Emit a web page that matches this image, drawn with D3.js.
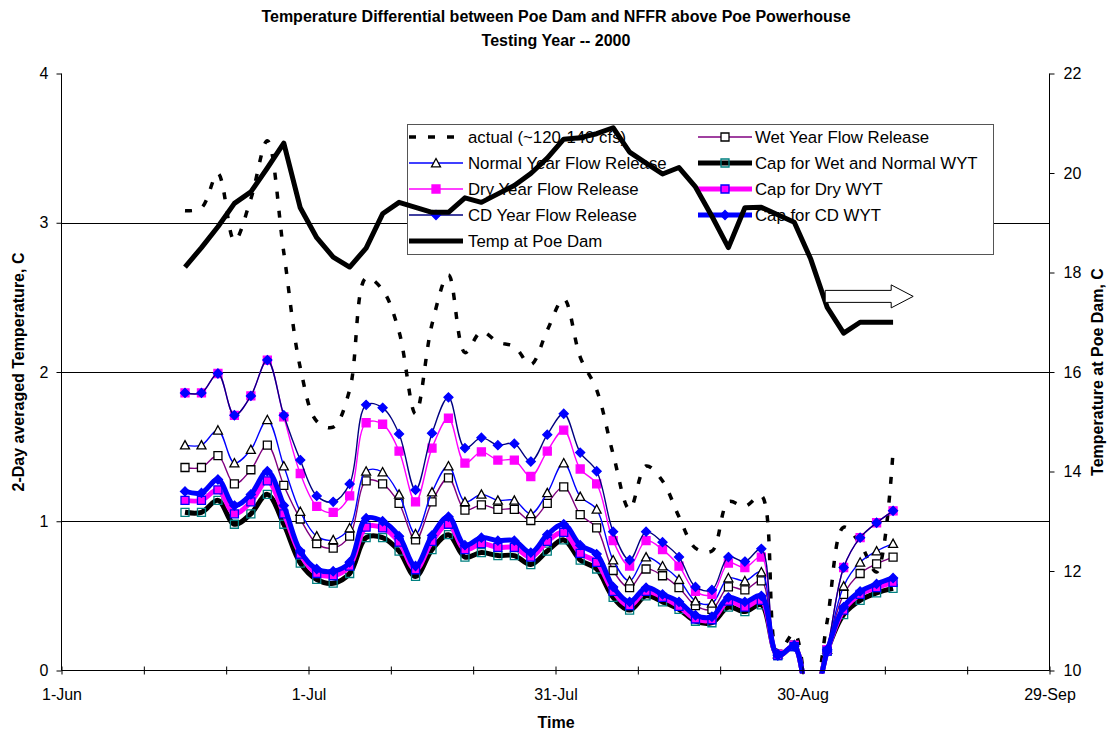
<!DOCTYPE html>
<html><head><meta charset="utf-8">
<script src="https://cdn.jsdelivr.net/npm/d3@7"></script>
<style>body{margin:0;background:#fff}text{font-family:"Liberation Sans",Arial,sans-serif}</style>
</head><body>
<svg id="chart" width="1110" height="733"></svg>
<script>
// ---------- DATA ----------
const dates = ["2000-06-16","2000-06-18","2000-06-20","2000-06-22","2000-06-24","2000-06-26","2000-06-28","2000-06-30",
 "2000-07-02","2000-07-04","2000-07-06","2000-07-08","2000-07-10","2000-07-12","2000-07-14","2000-07-16","2000-07-18",
 "2000-07-20","2000-07-22","2000-07-24","2000-07-26","2000-07-28","2000-07-30",
 "2000-08-01","2000-08-03","2000-08-05","2000-08-07","2000-08-09","2000-08-11","2000-08-13","2000-08-15","2000-08-17",
 "2000-08-19","2000-08-21","2000-08-23","2000-08-25","2000-08-27","2000-08-29","2000-08-31",
 "2000-09-02","2000-09-04","2000-09-06","2000-09-08","2000-09-10"];
const actual = [3.08,3.10,3.33,2.88,3.16,3.55,2.80,2.03,1.67,1.63,1.88,2.63,2.55,2.27,1.72,2.32,2.65,2.13,2.27,2.20,2.17,2.05,2.28,2.49,2.10,1.88,1.45,1.08,1.37,1.27,1.03,0.82,0.80,1.13,1.10,1.17,0.12,0.25,-0.30,0.33,0.96,0.85,0.66,1.47];
const wet = [1.36,1.36,1.44,1.25,1.345,1.51,1.24,1.015,0.85,0.82,0.90,1.27,1.25,1.12,0.875,1.13,1.29,1.075,1.11,1.08,1.08,1.005,1.12,1.23,1.045,0.955,0.67,0.555,0.68,0.635,0.555,0.435,0.41,0.56,0.54,0.60,0.11,0.17,-0.30,0.14,0.51,0.65,0.715,0.76];
const normal = [1.51,1.51,1.61,1.39,1.48,1.68,1.37,1.065,0.90,0.875,0.955,1.335,1.33,1.18,0.915,1.195,1.37,1.13,1.18,1.14,1.14,1.05,1.19,1.39,1.165,1.08,0.74,0.60,0.76,0.70,0.61,0.465,0.45,0.62,0.60,0.66,0.11,0.17,-0.30,0.14,0.565,0.725,0.80,0.85];
const dry = [1.86,1.86,1.99,1.71,1.84,2.08,1.70,1.32,1.10,1.06,1.17,1.66,1.65,1.47,1.13,1.49,1.69,1.39,1.465,1.41,1.41,1.30,1.47,1.61,1.35,1.25,0.87,0.70,0.87,0.81,0.70,0.53,0.51,0.72,0.69,0.76,0.11,0.17,-0.30,0.14,0.69,0.89,0.99,1.07];
const cd = [1.86,1.86,1.99,1.71,1.84,2.08,1.71,1.41,1.17,1.13,1.25,1.78,1.76,1.585,1.21,1.59,1.83,1.49,1.56,1.51,1.52,1.40,1.58,1.72,1.46,1.335,0.93,0.74,0.93,0.86,0.76,0.56,0.54,0.76,0.73,0.815,0.11,0.17,-0.30,0.14,0.69,0.89,0.99,1.07];
const capWN = [1.06,1.06,1.14,0.98,1.05,1.18,0.98,0.72,0.61,0.585,0.65,0.89,0.89,0.80,0.63,0.81,0.91,0.76,0.79,0.77,0.77,0.71,0.80,0.875,0.74,0.68,0.49,0.405,0.50,0.46,0.41,0.33,0.32,0.425,0.395,0.44,0.10,0.16,-0.30,0.13,0.375,0.47,0.52,0.55];
const capDry = [1.14,1.14,1.21,1.05,1.13,1.27,1.05,0.78,0.65,0.635,0.70,0.96,0.955,0.86,0.675,0.865,0.98,0.81,0.85,0.825,0.825,0.76,0.865,0.925,0.785,0.725,0.53,0.435,0.53,0.49,0.43,0.345,0.34,0.465,0.425,0.47,0.10,0.16,-0.30,0.13,0.405,0.51,0.555,0.59];
const capCD = [1.20,1.19,1.28,1.105,1.18,1.335,1.105,0.80,0.68,0.665,0.725,1.02,1.00,0.90,0.70,0.905,1.03,0.84,0.89,0.87,0.87,0.79,0.91,0.98,0.84,0.78,0.56,0.46,0.555,0.51,0.46,0.37,0.36,0.49,0.46,0.50,0.10,0.16,-0.30,0.13,0.425,0.53,0.58,0.62];
const tempPoe = [18.11,18.5,18.92,19.39,19.62,20.1,20.60,19.30,18.70,18.31,18.11,18.49,19.18,19.41,19.31,19.21,19.21,19.50,19.41,19.58,19.75,19.99,20.30,20.68,20.71,20.79,20.91,20.42,20.20,19.98,20.11,19.72,19.13,18.50,19.30,19.31,19.16,19.01,18.27,17.30,16.78,17.00,17.00,17.00];
const xTickDates = ["2000-06-01","2000-06-11","2000-06-21","2000-07-01","2000-07-11","2000-07-21","2000-07-31","2000-08-10","2000-08-20","2000-08-30","2000-09-09","2000-09-19","2000-09-29"];
const xLabelDates = ["2000-06-01","2000-07-01","2000-07-31","2000-08-30","2000-09-29"];
const leftTicks = [0,1,2,3,4];
const rightTicks = [10,12,14,16,18,20,22];
const gridTicks = [1,2,3];

// ---------- SETUP ----------
const parse = d3.utcParse("%Y-%m-%d");
const fmt = d3.utcFormat("%-d-%b");
const X = dates.map(parse);
const svg = d3.select("#chart");
const L = 61.5, R = 1049.5, T = 73.5, B = 670.5;
const x = d3.scaleUtc().domain([parse("2000-06-01"), parse("2000-09-29")]).range([L, R]);
const yL = d3.scaleLinear().domain([0,4]).range([B, T]);
const yR = d3.scaleLinear().domain([10,22]).range([B, T]);

svg.append("defs").append("clipPath").attr("id","clip")
  .append("rect").attr("x", L).attr("y", T - 3).attr("width", R - L).attr("height", B - T + 6);

// gridlines
svg.append("g").selectAll("line").data(gridTicks).join("line")
  .attr("x1", L).attr("x2", R).attr("y1", d => Math.round(yL(d)) + 0.5).attr("y2", d => Math.round(yL(d)) + 0.5)
  .attr("stroke", "#000").attr("stroke-width", 1);

// ---------- series config ----------
const smooth = d3.curveCatmullRom.alpha(0.5);
const series = [
  {name:"actual (~120-140 cfs)", values:actual, y:yL, color:"#000", width:3.5, dash:"7,12", curve:smooth},
  {name:"Wet Year Flow Release", values:wet, y:yL, color:"#800080", width:1.4, curve:smooth, marker:"square", mfill:"#fff", mstroke:"#000", msize:8},
  {name:"Normal Year Flow Release", values:normal, y:yL, color:"#0000FF", width:1.4, curve:smooth, marker:"triangle", mfill:"#fff", mstroke:"#000", msize:9},
  {name:"Cap for Wet and Normal WYT", values:capWN, y:yL, color:"#000", width:5, curve:smooth, marker:"square", mfill:"none", mstroke:"#008080", msize:8},
  {name:"Dry Year Flow Release", values:dry, y:yL, color:"#FF00FF", width:1.4, curve:smooth, marker:"square", mfill:"#FF00FF", mstroke:"#FF00FF", msize:8},
  {name:"Cap for Dry WYT", values:capDry, y:yL, color:"#FF00FF", width:5, curve:smooth, marker:"square", mfill:"#FF00FF", mstroke:"#0000FF", msize:8},
  {name:"CD Year Flow Release", values:cd, y:yL, color:"#000080", width:1.4, curve:smooth, marker:"diamond", mfill:"#0000FF", mstroke:"#0000FF", msize:9},
  {name:"Cap for CD WYT", values:capCD, y:yL, color:"#0000FF", width:5, curve:smooth, marker:"diamond", mfill:"#0000FF", mstroke:"#0000FF", msize:9},
  {name:"Temp at Poe Dam", values:tempPoe, y:yR, color:"#000", width:5, curve:d3.curveLinear}
];

function markerPath(type, s) {
  const h = s / 2;
  if (type === "square") return `M${-h},${-h}H${h}V${h}H${-h}Z`;
  if (type === "diamond") return `M0,${-h}L${h},0L0,${h}L${-h},0Z`;
  if (type === "triangle") return `M0,${-h}L${h},${h*0.85}L${-h},${h*0.85}Z`;
  return "";
}

// ---------- legend (drawn under series, as in reference) ----------
const lg = svg.append("g");
lg.append("rect").attr("x", 407.5).attr("y", 124.5).attr("width", 586).attr("height", 130)
  .attr("fill", "#fff").attr("stroke", "#555").attr("stroke-width", 1);
const colSample = [[409, 463], [698, 752]];
const colText = [468, 755];
series.forEach((s, i) => {
  const col = i % 2, row = Math.floor(i / 2);
  const cy = 137 + row * 26;
  const [a, b] = colSample[col];
  lg.append("line").attr("x1", a).attr("x2", b).attr("y1", cy).attr("y2", cy)
    .attr("stroke", s.color).attr("stroke-width", s.width).attr("stroke-dasharray", s.dash || null);
  if (s.marker) {
    lg.append("path").attr("d", markerPath(s.marker, s.msize)).attr("transform", `translate(${(a + b) / 2},${cy})`)
      .attr("fill", s.mfill).attr("stroke", s.mstroke).attr("stroke-width", 1.3);
  }
  lg.append("text").attr("x", colText[col]).attr("y", cy + 6).attr("font-size", 16.8).text(s.name);
});

// ---------- series ----------
const plot = svg.append("g").attr("clip-path", "url(#clip)");
series.forEach(s => {
  const pts = s.values.map((v, i) => [x(X[i]), s.y(v)]);
  plot.append("path").attr("d", d3.line().curve(s.curve)(pts))
    .attr("fill", "none").attr("stroke", s.color).attr("stroke-width", s.width)
    .attr("stroke-dasharray", s.dash || null).attr("stroke-linejoin", "round");
  if (s.marker) {
    plot.append("g").selectAll("path").data(pts).join("path")
      .attr("d", markerPath(s.marker, s.msize))
      .attr("transform", d => `translate(${d[0]},${d[1]})`)
      .attr("fill", s.mfill).attr("stroke", s.mstroke).attr("stroke-width", 1.3);
  }
});

// arrow annotation pointing to right axis
const ax0 = x(parse("2000-09-02")) - 2, ay = yR(17.52);
const ax1 = ax0 + 66, ax2 = ax0 + 88;
svg.append("path")
  .attr("d", `M${ax0},${ay-6}H${ax1}V${ay-11.5}L${ax2},${ay}L${ax1},${ay+11.5}V${ay+6}H${ax0}Z`)
  .attr("fill", "#fff").attr("stroke", "#000").attr("stroke-width", 1);

// ---------- axes ----------
const axL = svg.append("g").attr("transform", `translate(${L},0)`)
  .call(d3.axisLeft(yL).tickValues(leftTicks).tickSize(5).tickPadding(8).tickFormat(d3.format("d")));
const axR = svg.append("g").attr("transform", `translate(${R},0)`)
  .call(d3.axisRight(yR).tickValues(rightTicks).tickSize(5).tickPadding(9).tickFormat(d3.format("d")));
const axB = svg.append("g").attr("transform", `translate(0,${B})`)
  .call(d3.axisBottom(x).tickValues(xTickDates.map(parse)).tickSize(4)
    .tickFormat(d => xLabelDates.includes(d3.utcFormat("%Y-%m-%d")(d)) ? fmt(d) : ""));
axB.selectAll(".tick line").attr("y1", -4).attr("y2", 4);
axB.selectAll(".tick text").attr("y", 18).attr("dy", "0.71em");
[axL, axR, axB].forEach(g => {
  g.selectAll("path.domain").attr("stroke", "#000").attr("stroke-width", 1);
  g.selectAll(".tick line").attr("stroke", "#000");
  g.selectAll(".tick text").attr("font-size", 16).attr("fill", "#000")
    .attr("font-family", '"Liberation Sans",Arial,sans-serif');
});
axL.select("path.domain").attr("d", `M0,${T}V${B}`);
axR.select("path.domain").attr("d", `M0,${T}V${B}`);
axB.select("path.domain").attr("d", `M${L},0H${R}`);

// ---------- titles ----------
svg.append("text").attr("x", 556).attr("y", 22).attr("text-anchor", "middle").attr("font-size", 16).attr("font-weight", "bold")
  .text("Temperature Differential between Poe Dam and NFFR above Poe Powerhouse");
svg.append("text").attr("x", 556).attr("y", 46).attr("text-anchor", "middle").attr("font-size", 16).attr("font-weight", "bold")
  .text("Testing Year -- 2000");
svg.append("text").attr("x", 556).attr("y", 728).attr("text-anchor", "middle").attr("font-size", 16).attr("font-weight", "bold")
  .text("Time");
svg.append("text").attr("transform", `translate(24,${(T + B) / 2}) rotate(-90)`).attr("text-anchor", "middle")
  .attr("font-size", 16).attr("font-weight", "bold").text("2-Day averaged Temperature, C");
svg.append("text").attr("transform", `translate(1103,${(T + B) / 2}) rotate(-90)`).attr("text-anchor", "middle")
  .attr("font-size", 16).attr("font-weight", "bold").text("Temperature at Poe Dam, C");
</script>
</body></html>
